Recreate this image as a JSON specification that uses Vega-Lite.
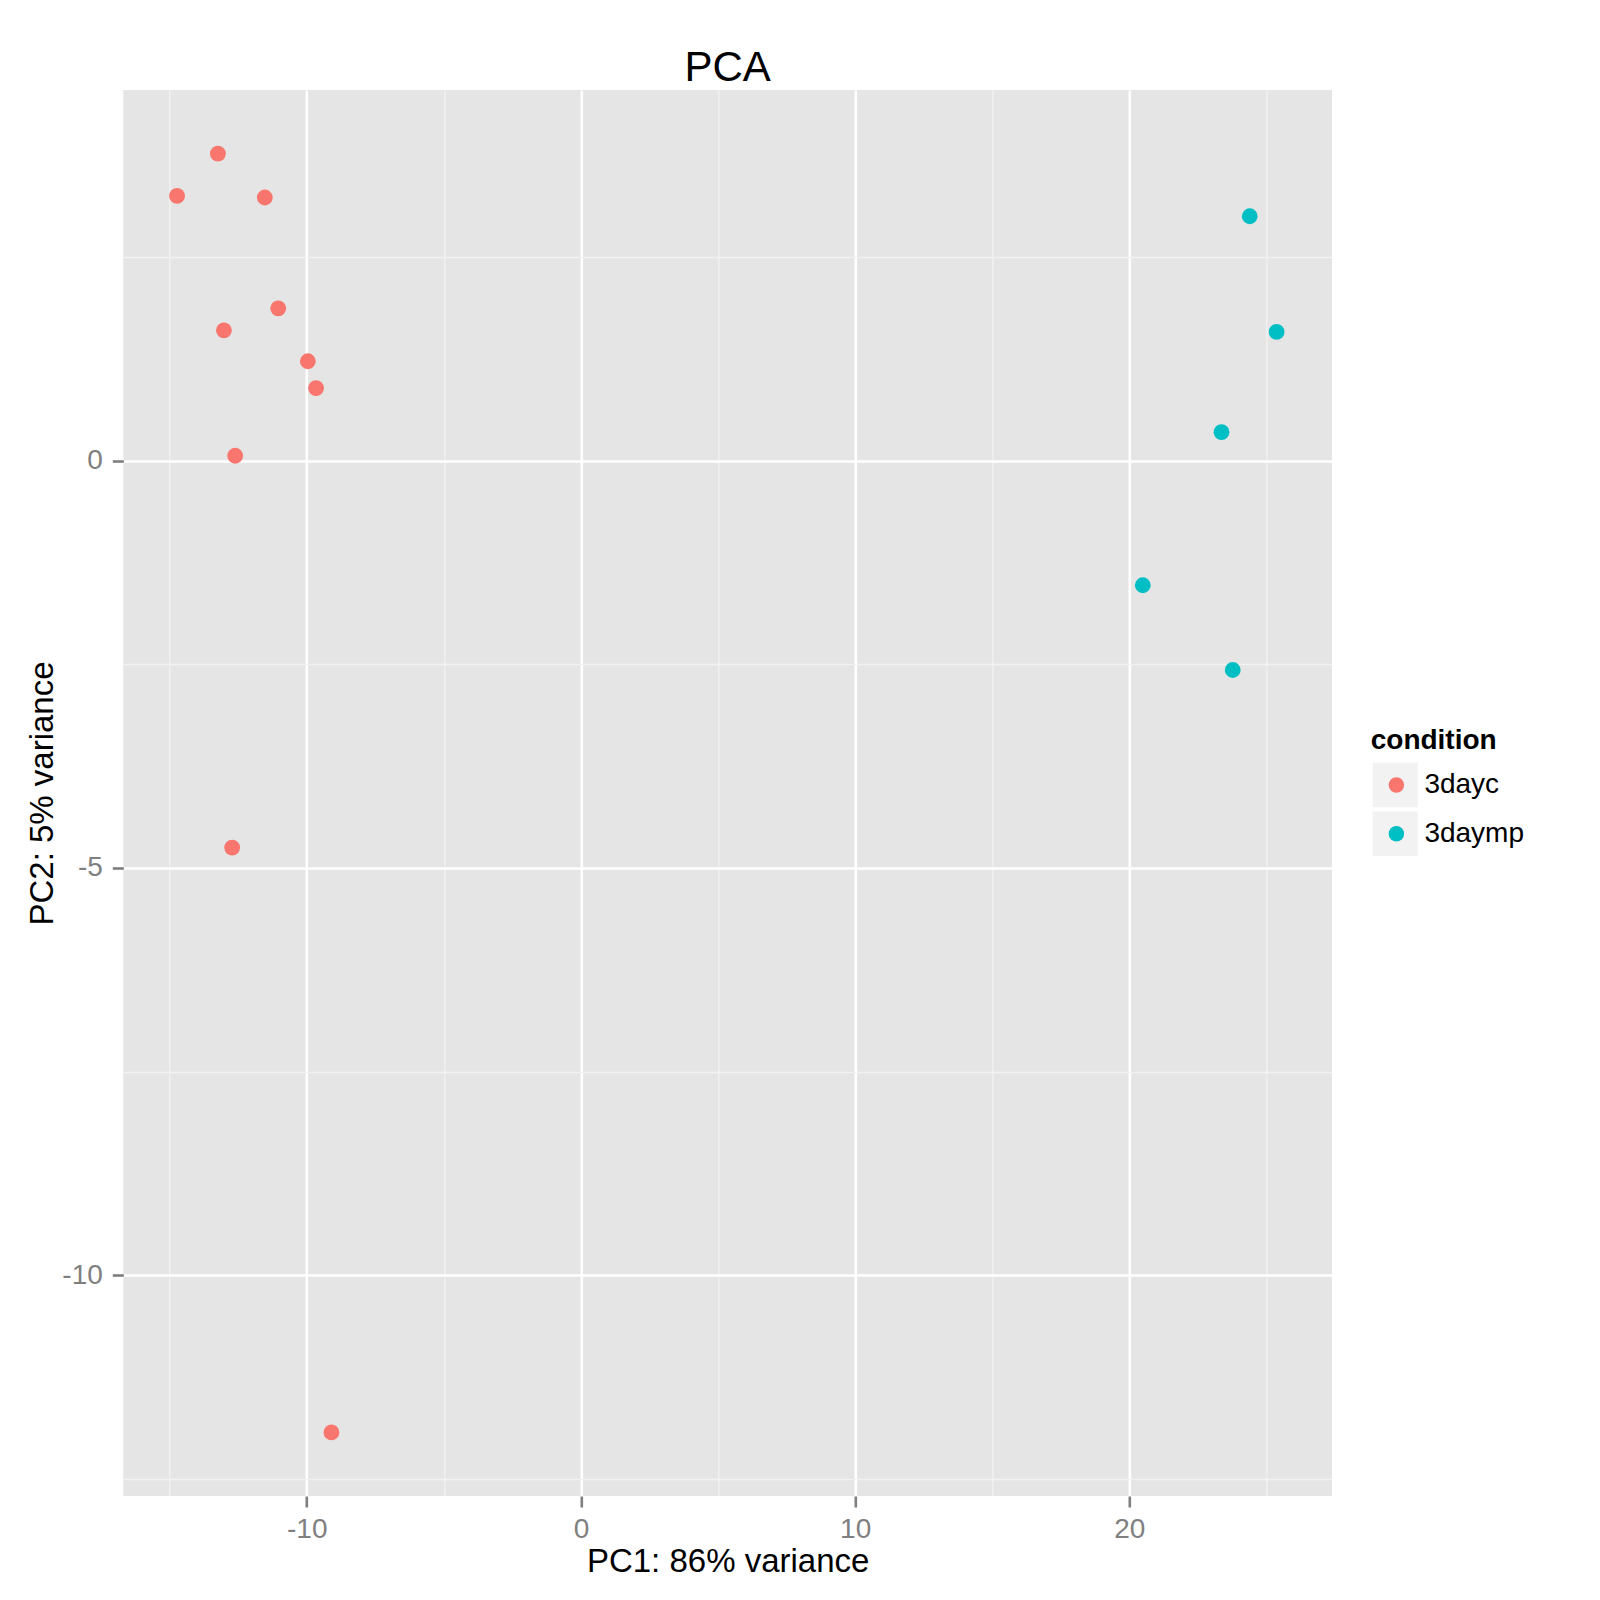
{
  "$schema": "https://vega.github.io/schema/vega-lite/v6.json",
  "description": "PCA of samples by condition",
  "background": "white",
  "autosize": {"type": "none"},
  "padding": {"left": 123.3, "top": 90, "right": 268, "bottom": 104},
  "width": 1208.7,
  "height": 1406,
  "title": {
    "text": "PCA",
    "font": "Liberation Sans",
    "fontSize": 42,
    "fontWeight": "normal",
    "color": "black",
    "anchor": "middle",
    "baseline": "alphabetic",
    "offset": -33
  },
  "data": {
    "values": [
      {"pc1": -14.73, "pc2": 3.25, "condition": "3dayc"},
      {"pc1": -13.24, "pc2": 3.77, "condition": "3dayc"},
      {"pc1": -11.53, "pc2": 3.23, "condition": "3dayc"},
      {"pc1": -11.04, "pc2": 1.87, "condition": "3dayc"},
      {"pc1": -13.02, "pc2": 1.6, "condition": "3dayc"},
      {"pc1": -9.96, "pc2": 1.22, "condition": "3dayc"},
      {"pc1": -9.66, "pc2": 0.89, "condition": "3dayc"},
      {"pc1": -12.61, "pc2": 0.06, "condition": "3dayc"},
      {"pc1": -12.72, "pc2": -4.75, "condition": "3dayc"},
      {"pc1": -9.1, "pc2": -11.93, "condition": "3dayc"},
      {"pc1": 24.39, "pc2": 3.0, "condition": "3daymp"},
      {"pc1": 25.37, "pc2": 1.58, "condition": "3daymp"},
      {"pc1": 23.36, "pc2": 0.35, "condition": "3daymp"},
      {"pc1": 20.49, "pc2": -1.53, "condition": "3daymp"},
      {"pc1": 23.77, "pc2": -2.57, "condition": "3daymp"}
    ]
  },
  "encoding": {
    "x": {
      "field": "pc1",
      "type": "quantitative",
      "title": "PC1: 86% variance",
      "scale": {"domain": [-16.69, 27.39], "nice": false, "zero": false},
      "axis": {
        "values": [-15, -10, -5, 0, 5, 10, 15, 20, 25],
        "labelExpr": "datum.value % 10 === 0 ? '' + datum.value : ''",
        "tickOpacity": {"condition": {"test": "datum.value % 10 === 0", "value": 1}, "value": 0},
        "gridColor": {"condition": {"test": "datum.value % 10 === 0", "value": "#FFFFFF"}, "value": "#F2F2F2"},
        "gridWidth": {"condition": {"test": "datum.value % 10 === 0", "value": 2.6}, "value": 1.3},
        "labelPadding": 8,
        "titlePadding": 2
      }
    },
    "y": {
      "field": "pc2",
      "type": "quantitative",
      "title": "PC2: 5% variance",
      "scale": {"domain": [-12.71, 4.55], "nice": false, "zero": false},
      "axis": {
        "values": [2.5, 0, -2.5, -5, -7.5, -10, -12.5],
        "labelExpr": "datum.value % 5 === 0 ? '' + datum.value : ''",
        "tickOpacity": {"condition": {"test": "datum.value % 5 === 0", "value": 1}, "value": 0},
        "gridColor": {"condition": {"test": "datum.value % 5 === 0", "value": "#FFFFFF"}, "value": "#F2F2F2"},
        "gridWidth": {"condition": {"test": "datum.value % 5 === 0", "value": 2.6}, "value": 1.3},
        "labelPadding": 10,
        "titlePadding": 2
      }
    }
  },
  "layer": [
    {
      "mark": {"type": "point", "filled": true, "color": "#F2F2F2", "opacity": 0, "size": 250},
      "encoding": {
        "shape": {
          "field": "condition",
          "type": "nominal",
          "scale": {"domain": ["3dayc", "3daymp"], "range": ["square", "square"]},
          "legend": {
            "orient": "none",
            "legendX": 1247.4,
            "legendY": 636.5,
            "title": "condition",
            "titleOpacity": 0,
            "labelExpr": "''",
            "symbolSize": 2025,
            "symbolStrokeWidth": 0,
            "symbolFillColor": "#F2F2F2",
            "symbolOffset": 2,
            "clipHeight": 45,
            "rowPadding": 3.7,
            "titlePadding": 8,
            "zindex": 0,
            "encode": {
              "symbols": {
                "update": {
                  "fill": {"value": "#F2F2F2"},
                  "opacity": {"value": 1}
                }
              }
            }
          }
        }
      }
    },
    {
      "mark": {"type": "point", "filled": true, "opacity": 1, "size": 250},
      "encoding": {
        "color": {
          "field": "condition",
          "type": "nominal",
          "scale": {"range": ["#F8766D", "#00BFC4"]},
          "legend": {
            "orient": "none",
            "legendX": 1247.4,
            "legendY": 636.5,
            "title": "condition",
            "symbolType": "circle",
            "symbolSize": 240,
            "symbolStrokeWidth": 0,
            "symbolOffset": 11.7,
            "labelOffset": 14,
            "clipHeight": 45,
            "rowPadding": 3.7,
            "titlePadding": 8,
            "zindex": 1
          }
        }
      }
    }
  ],
  "config": {
    "view": {"fill": "#E5E5E5", "stroke": null},
    "axis": {
      "domain": false,
      "labelFont": "Liberation Sans",
      "labelFontSize": 28,
      "labelColor": "#7F7F7F",
      "labelFlush": false,
      "labelOverlap": false,
      "tickColor": "#7F7F7F",
      "tickSize": 11,
      "tickWidth": 2.6,
      "titleFont": "Liberation Sans",
      "titleFontSize": 33,
      "titleFontWeight": "normal",
      "titleColor": "black"
    },
    "legend": {
      "padding": 0,
      "titleFont": "Liberation Sans",
      "titleFontSize": 28,
      "titleFontWeight": "bold",
      "titleColor": "black",
      "labelFont": "Liberation Sans",
      "labelFontSize": 28,
      "labelColor": "black"
    }
  }
}
